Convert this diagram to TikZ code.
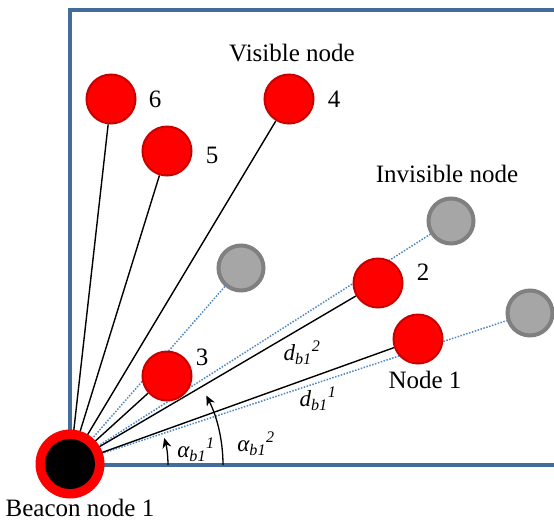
\documentclass[tikz,border=0pt]{standalone}
\usepackage{fontspec}
\setmainfont{Liberation Serif}
\usetikzlibrary{arrows.meta,backgrounds}
\definecolor{framec}{RGB}{65,108,155}
\definecolor{linkc}{RGB}{80,135,195}
\definecolor{redfill}{RGB}{255,0,0}
\definecolor{redline}{RGB}{200,0,0}
\definecolor{grayfill}{RGB}{166,166,166}
\definecolor{grayline}{RGB}{128,128,128}
\tikzset{
  rednode/.style={circle,fill=redfill,draw=redline,line width=2pt,minimum size=49pt,inner sep=0pt},
  graynode/.style={circle,fill=grayfill,draw=grayline,line width=4pt,minimum size=45pt,inner sep=0pt},
  beaconnode/.style={circle,fill=redfill,minimum size=69pt,inner sep=0pt},
  lbl/.style={font=\fontsize{25}{29}\selectfont,inner sep=0pt},
  mlbl/.style={font=\fontsize{23}{27}\selectfont\itshape,inner sep=0pt},
  seen/.style={black,line width=1.4pt},
  hidden/.style={linkc,line width=1.5pt,dash pattern=on 1.5pt off 1.5pt},
  anglearrow/.style={black,line width=1.3pt,-{Stealth[length=10pt,width=9pt]}}
}
\begin{document}
\begin{tikzpicture}[x=1pt,y=-1pt]
\useasboundingbox (0,0) rectangle (554,523);

% sensing field border, open to the right
\draw[framec,line width=4pt] (554,10) -- (70,10) -- (70,465) -- (554,465);

% beacon node
\node[beaconnode] (b) at (70,464) {};
\fill[black] (b.center) circle[radius=25pt];

% unknown nodes
\node[rednode] (n1) at (418,339) {};
\node[rednode] (n2) at (378,283) {};
\node[rednode] (n3) at (167,376) {};
\node[rednode] (n4) at (289,99) {};
\node[rednode] (n5) at (167,151) {};
\node[rednode] (n6) at (111,99) {};
\node[graynode] (g1) at (530,313) {};
\node[graynode] (g2) at (451,221) {};
\node[graynode] (g3) at (241,268) {};

% links from the beacon
\begin{pgfonlayer}{background}
  \draw[hidden] (b.center) -- (g1);
  \draw[hidden] (b.center) -- (g2);
  \draw[hidden] (b.center) -- (g3);
  \draw[seen] (b.center) -- (n1);
  \draw[seen] (b.center) -- (n2);
  \draw[seen] (b.center) -- (n3);
  \draw[seen] (b.center) -- (n4);
  \draw[seen] (b.center) -- (n5);
  \draw[seen] (b.center) -- (n6);
\end{pgfonlayer}

% angle arrows
\draw[anglearrow] (168,465) arc[start angle=0,end angle=16,radius=98pt];
\draw[anglearrow] (223,465) arc[start angle=0,end angle=27,radius=153pt];

% labels
\node[lbl] (tv) at (292,53) {Visible node};
\node[lbl] (ti) at (447,174) {Invisible node};
\node[lbl] (t6) at (155,99) {6};
\node[lbl] (t5) at (212,155) {5};
\node[lbl] (t4) at (334,99) {4};
\node[lbl] (t3) at (202,357) {3};
\node[lbl] (t2) at (423,272) {2};
\node[lbl] (t1) at (425,380) {Node 1};
\node[lbl] (tb) at (80,508) {Beacon node 1};
\node[mlbl] (d2) at (302,353) {d\textsubscript{b1}\textsuperscript{2}};
\node[mlbl] (d1) at (318,399) {d\textsubscript{b1}\textsuperscript{1}};
\node[mlbl] (a1) at (196,450) {α\textsubscript{b1}\textsuperscript{1}};
\node[mlbl] (a2) at (256,444) {α\textsubscript{b1}\textsuperscript{2}};
\end{tikzpicture}
\end{document}
